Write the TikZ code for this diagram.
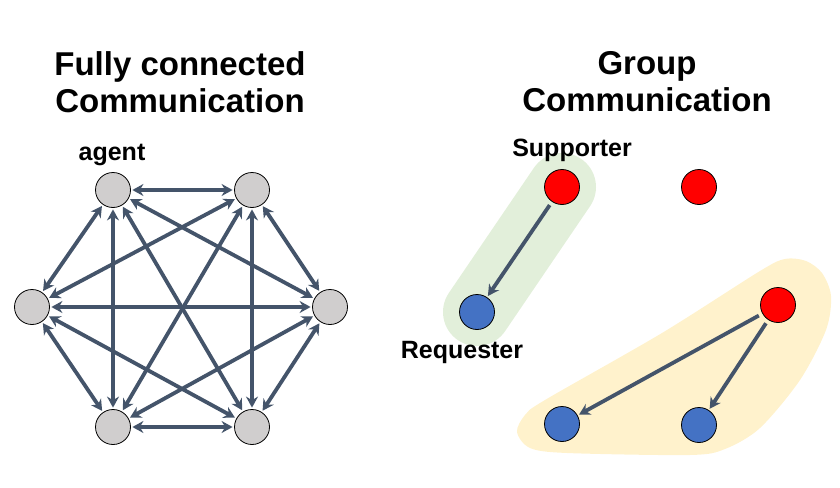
\documentclass[tikz,border=0pt]{standalone}
\usepackage{fontspec}
\setmainfont{Liberation Sans}
\usetikzlibrary{arrows.meta}
\definecolor{agentgray}{HTML}{D0CECE}
\definecolor{linkblue}{HTML}{44546A}
\definecolor{supred}{HTML}{FF0000}
\definecolor{reqblue}{HTML}{4472C4}
\definecolor{greenzone}{HTML}{E2EFDA}
\definecolor{yellowzone}{HTML}{FFF2CC}
\begin{document}
\begin{tikzpicture}[x=1pt,y=-1pt]
    \tikzset{
        agent/.style={circle, draw=black, line width=0.8pt, minimum size=35pt, inner sep=0pt},
        link/.style={draw=linkblue, line width=3.8pt, {Stealth[length=11pt,width=12pt]}-{Stealth[length=11pt,width=12pt]}, shorten <=1.5pt, shorten >=1.5pt},
        push/.style={draw=linkblue, line width=3.8pt, -{Stealth[length=11pt,width=12pt]}, shorten <=4pt, shorten >=1.5pt},
        title/.style={font=\bfseries\fontsize{33}{37}\selectfont, align=center, inner sep=0pt},
        lbl/.style={font=\bfseries\fontsize{25}{28}\selectfont, inner sep=0pt}
    };
    \useasboundingbox (0,0) rectangle (840,487);
    % titles
    \node[title] (ttlfull) at (180,82) {Fully connected\\Communication};
    \node[title] (ttlgroup) at (647,82) {Group\\Communication};

    % fully connected agents
    \foreach \i/\x/\y in {1/113/190, 2/252/190, 3/330/307, 4/252/427, 5/113/427, 6/32/307}{
        \node[agent, fill=agentgray] (a\i) at (\x,\y) {};
    }
    \foreach \i in {1,...,6}{
        \foreach \j in {\i,...,6}{
            \ifnum\i<\j \draw[link] (a\i) -- (a\j); \fi
        }
    }
    \node[lbl] (agentlbl) at (112,155) {agent};

    % groups
    \draw[greenzone, line width=68pt, line cap=round] (562,187) -- (477,312);
    \fill[yellowzone] plot[smooth cycle, tension=0.5] coordinates {
        (785,259) (806,261) (822,273) (831,296) (826,330) (800,380) (760,428)
        (725,449) (690,455) (567,453) (530,448) (517,432) (525,415) (545,400)
        (662,333) (760,271)};
    \node[agent, fill=supred] (sup) at (562,187) {};
    \node[agent, fill=supred] (idle) at (699,187) {};
    \node[agent, fill=supred] (lead) at (778,305) {};
    \node[agent, fill=reqblue] (req) at (477,312) {};
    \node[agent, fill=reqblue] (memb1) at (562,424) {};
    \node[agent, fill=reqblue] (memb2) at (699,425) {};
    \draw[push] (sup) -- (req);
    \draw[push] (lead) -- (memb1);
    \draw[push] (lead) -- (memb2);
    \node[lbl] (suplbl) at (572,150) {Supporter};
    \node[lbl] (reqlbl) at (462,352) {Requester};
\end{tikzpicture}
\end{document}
